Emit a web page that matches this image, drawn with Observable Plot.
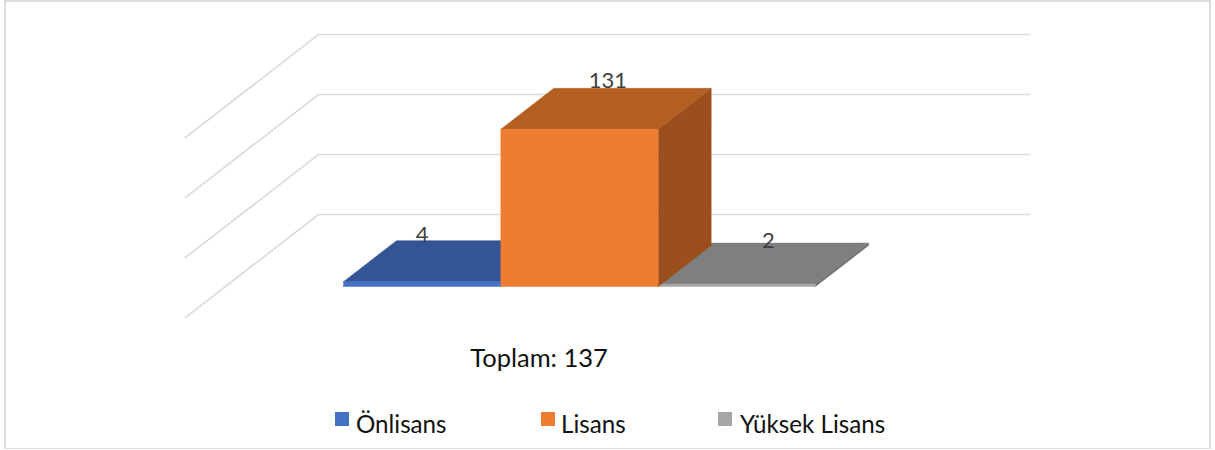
<!DOCTYPE html>
<html>
<head>
<meta charset="utf-8">
<script src="https://cdn.jsdelivr.net/npm/d3@7"></script>
<script src="https://cdn.jsdelivr.net/npm/@observablehq/plot@0.6"></script>
<style>
html,body{margin:0;padding:0;background:#fff;overflow:hidden}
#frame{position:absolute;left:4px;top:0;width:1207px;height:449px;box-sizing:border-box;border:2px solid #dcdcdc;border-bottom-width:1px;pointer-events:none}
#chart{position:absolute;left:0;top:0}
.lg{position:absolute;font:24.2px Lato,sans-serif;color:#111;line-height:28px;top:410px;white-space:nowrap}
.sw{position:absolute;width:14px;height:14px;top:412px}
</style>
</head>
<body>
<div id="chart"></div>
<div id="frame"></div>
<div id="legend"></div>
<script>
const categories = ["Önlisans", "Lisans", "Yüksek Lisans"];
const values = [4, 131, 2];
const frontColors = ["#4472c4", "#ed7d31", "#a5a5a5"];
const topColors = ["#335593", "#b45f22", "#7f7f7f"];
const sideColors = ["#2c4a80", "#9a4f1c", "#6f6f6f"];
const gridTicks = [0, 50, 100, 150];
const drawOrder = [0, 2, 1];
const labelCat = [0.5, 1.68, 2.7];
const labelVal = [43, 171, 38];
const legendSwatchX = [335, 541, 718];
const legendTextX = [356, 561, 740];

// oblique projection: depth 1 = bar depth, expressed in x (category) and y (value) units
const depthX = 53 / 157.33, depthY = 41 / 1.2;
const floorNear = -0.756, floorFar = 1.756, floorLeft = -0.75, floorRight = 3.77;
const P = (c, v, d) => ({x: c + d * depthX, y: v + d * depthY});
const poly = (pts, fill) => Plot.line([...pts, pts[0]], {x: "x", y: "y", fill, stroke: fill, strokeWidth: 0.5});

const marks = [];
for (const t of gridTicks) {
  const pts = [P(floorLeft, t, floorNear), P(floorLeft, t, floorFar), P(floorRight, t, floorFar)];
  marks.push(Plot.line(pts, {x: "x", y: "y", stroke: "#dcdcdc", strokeWidth: 1.7}));
}
for (const i of drawOrder) {
  const v = values[i], a = i, b = i + 1;
  marks.push(poly([P(b, 0, 0), P(b, 0, 1), P(b, v, 1), P(b, v, 0)], sideColors[i]));
  marks.push(poly([P(a, v, 0), P(b, v, 0), P(b, v, 1), P(a, v, 1)], topColors[i]));
  marks.push(poly([P(a, 0, 0), P(b, 0, 0), P(b, v, 0), P(a, v, 0)], frontColors[i]));
}
marks.push(Plot.text(values, {
  x: (d, i) => labelCat[i], y: (d, i) => labelVal[i], text: d => String(d),
  fill: "#404040", fontSize: 22, fontFamily: "Lato, sans-serif", lineAnchor: "middle"
}));
marks.push(Plot.text([`Toplam: ${d3.sum(values)}`], {
  x: [1.243], y: [-60], text: d => d,
  fill: "#111", fontSize: 25.5, fontFamily: "Lato, sans-serif", lineAnchor: "middle"
}));

const plot = Plot.plot({
  width: 1215, height: 400,
  marginLeft: 0, marginRight: 0, marginTop: 0, marginBottom: 0,
  x: {domain: [-343 / 157.33, 872 / 157.33], range: [0, 1215], axis: null},
  y: {domain: [-114 / 1.2, 286 / 1.2], range: [400, 0], axis: null},
  style: {background: "transparent"},
  marks
});
document.getElementById("chart").append(plot);

const lg = document.getElementById("legend");
categories.forEach((c, i) => {
  const s = document.createElement("div");
  s.className = "sw"; s.style.left = legendSwatchX[i] + "px"; s.style.background = frontColors[i];
  const t = document.createElement("div");
  t.className = "lg"; t.style.left = legendTextX[i] + "px"; t.textContent = c;
  lg.append(s, t);
});
</script>
</body>
</html>
